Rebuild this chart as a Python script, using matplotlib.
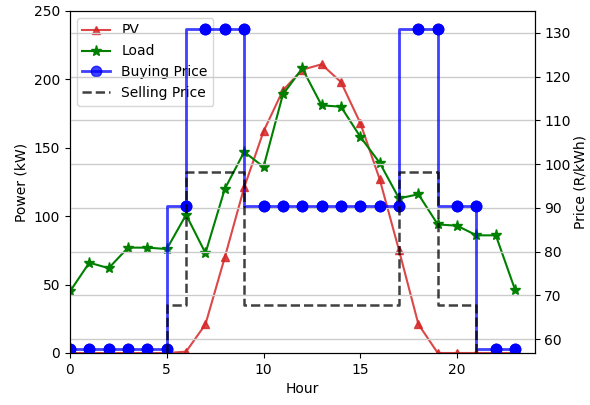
import matplotlib
matplotlib.use("Agg")
import matplotlib.pyplot as plt

hours = list(range(24))

pv = [0, 0, 0, 0, 0, 0, 1, 21, 70, 121, 162, 192, 207, 211, 198, 168, 127, 75, 21, 0, 0, 0, 0, 0]
load = [45, 66, 62, 77, 77, 76, 101, 73, 120, 147, 136, 189, 208, 181, 180, 158, 139, 113, 116, 94, 93, 86, 86, 46]

buy_price = [57.7, 57.7, 57.7, 57.7, 57.7, 57.7, 90.4, 130.8, 130.8, 130.8,
             90.4, 90.4, 90.4, 90.4, 90.4, 90.4, 90.4, 90.4, 130.8, 130.8,
             90.4, 90.4, 57.7, 57.7]
# selling tariff is 75% of the buying tariff
sell_price = [43.3, 43.3, 43.3, 43.3, 43.3, 43.3, 67.8, 98.1, 98.1, 98.1,
              67.8, 67.8, 67.8, 67.8, 67.8, 67.8, 67.8, 67.8, 98.1, 98.1,
              67.8, 67.8, 43.3, 43.3]

fig, ax1 = plt.subplots(figsize=(5.9, 4.05), dpi=100)
fig.subplots_adjust(left=0.1186, right=0.906, top=0.973, bottom=0.1284)

l1, = ax1.plot(hours, pv, color="tab:red", marker="^", alpha=0.85, label="PV")
l2, = ax1.plot(hours, load, color="green", marker="*", markersize=8, label="Load")
ax1.set_xlabel("Hour")
ax1.set_ylabel("Power (kW)")
ax1.set_ylim(0, 250)
ax1.set_xlim(0, 24)

ax2 = ax1.twinx()
l3, = ax2.plot(hours, buy_price, color="blue", marker="o", markersize=7.5, linewidth=2,
               drawstyle="steps", alpha=0.75, label="Buying Price")
ax2.plot(hours, buy_price, color="blue", marker="o", markersize=7.5, linestyle="none")
l4, = ax2.plot(hours, sell_price, color="black", linestyle="--", linewidth=1.8,
               drawstyle="steps", alpha=0.75, label="Selling Price")
ax2.set_ylabel("Price (R/kWh)", labelpad=2)
ax2.set_ylim(56.8, 135.0)
ax2.grid(True, color="0.8", linewidth=1)

ax1.legend([l1, l2, l3, l4], ["PV", "Load", "Buying Price", "Selling Price"], loc="upper left")

fig.savefig("out.png")
